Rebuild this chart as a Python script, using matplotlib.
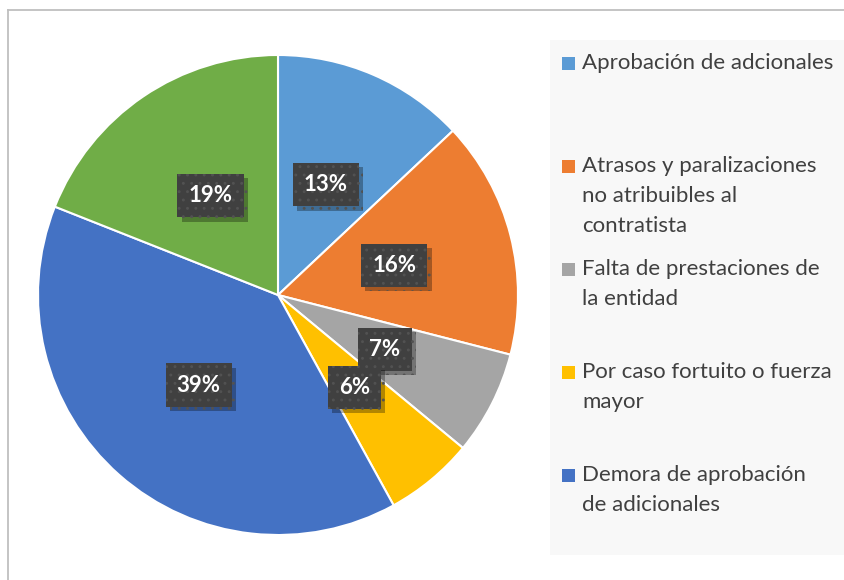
import matplotlib.pyplot as plt
from matplotlib.patches import Rectangle
from matplotlib.lines import Line2D
from matplotlib import patheffects as pe

categories = [
    "Aprobación de adcionales",
    "Atrasos y paralizaciones\nno atribuibles al\ncontratista",
    "Falta de prestaciones de\nla entidad",
    "Por caso fortuito o fuerza\nmayor",
    "Demora de aprobación\nde adicionales",
    "",
]
values = [13, 16, 7, 6, 39, 19]
colors = ["#5B9BD5", "#ED7D31", "#A5A5A5", "#FFC000", "#4472C4", "#70AD47"]

plt.rcParams["font.family"] = ["Lato", "DejaVu Sans"]
plt.rcParams["hatch.linewidth"] = 0.9

fig = plt.figure(figsize=(8.44, 5.8), dpi=100)

# outer chart border (top and left only visible)
fig.add_artist(Line2D([8 / 844, 1], [1 - 10 / 580, 1 - 10 / 580], color="#BFBFBF", lw=1.3))
fig.add_artist(Line2D([8 / 844, 8 / 844], [0, 1 - 10 / 580], color="#BFBFBF", lw=1.3))

# legend background
fig.add_artist(Rectangle((550 / 844, 25 / 580), 294 / 844, 515 / 580,
                         transform=fig.transFigure, facecolor="#F8F8F8", edgecolor="none"))

r = 1.01
ax = fig.add_axes([(278 - 240 * r) / 844, (285 - 240 * r) / 580, 480 * r / 844, 480 * r / 580])
wedges, texts, autotexts = ax.pie(
    values, colors=colors, startangle=90, counterclock=False,
    autopct=lambda p: f"{p:.0f}%", pctdistance=0.5,
    wedgeprops=dict(edgecolor="white", linewidth=1.5),
    textprops=dict(color="white", fontsize=16, fontweight="bold"),
)
ax.set_xlim(-r, r)
ax.set_ylim(-r, r)
ax.set_aspect("equal")

for t in autotexts:
    t.set_bbox(dict(boxstyle="square,pad=0.5", facecolor="#404040",
                    edgecolor="#525252", linewidth=0, hatch=".."))
    t.get_bbox_patch().set_path_effects([
        pe.SimplePatchShadow(offset=(3, -3), shadow_rgbFace="black", alpha=0.3),
        pe.Normal(),
    ])

# legend entries
labels = [c for c in categories if c]
for i, (lab, col) in enumerate(zip(labels, colors)):
    y = 1 - (63 + i * 103) / 580
    fig.add_artist(Rectangle((562 / 844, y - 6.5 / 580), 13 / 844, 13 / 580,
                             transform=fig.transFigure, facecolor=col, edgecolor="none"))
    fig.text(582 / 844, y + 10 / 580, lab, fontsize=16, color="#404040", va="top",
             ha="left", linespacing=1.64, transform=fig.transFigure)

fig.savefig("out.png", dpi=100)
